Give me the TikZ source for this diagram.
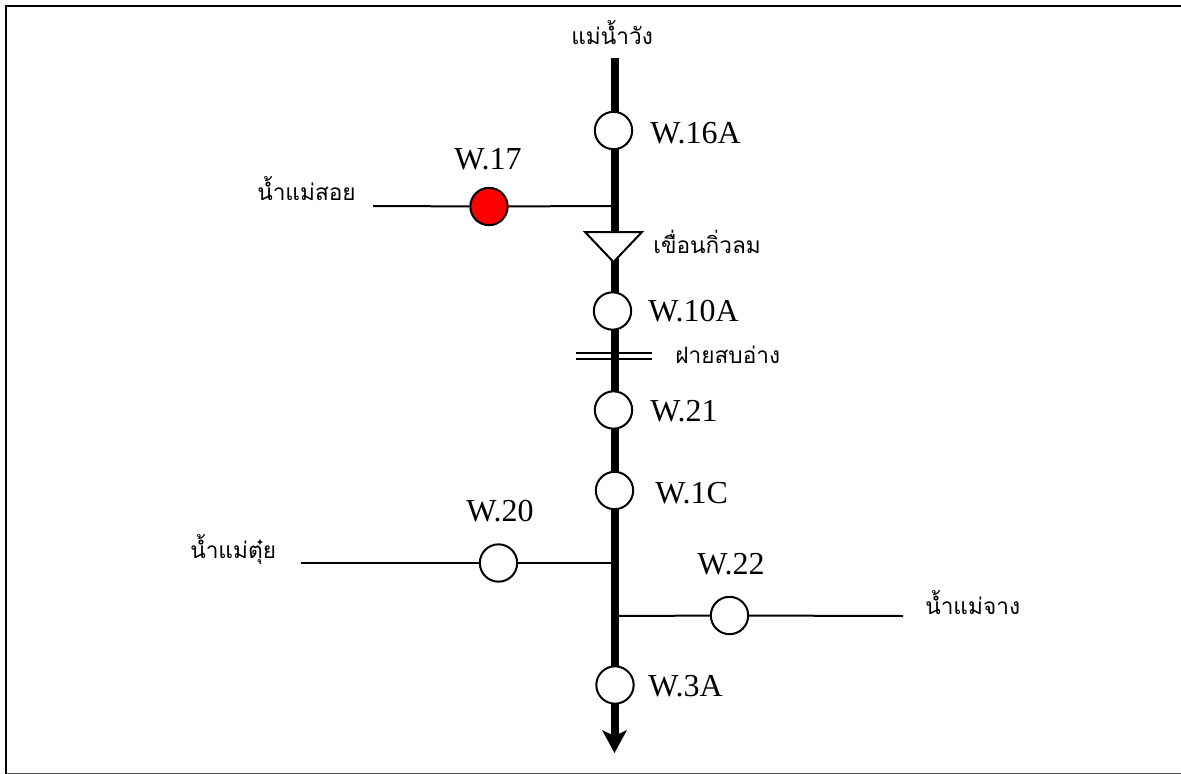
\documentclass[tikz,border=0pt]{standalone}
\usepackage{fontspec}
\setmainfont{Liberation Serif}
\newfontfamily\thaifont[Script=Thai,FakeStretch=1.0]{Loma}
\usetikzlibrary{arrows.meta}
\definecolor{edgegray}{HTML}{555555}
\tikzset{
  x=0.75pt,y=-0.75pt,
  station/.style={circle,draw=black,line width=1.5pt,fill=white,minimum size=28pt,inner sep=0pt},
  redstation/.style={station,fill=red},
  river/.style={line width=6pt,draw=black},
  branch/.style={line width=1.5pt,draw=black},
  gauge/.style={font=\fontsize{24pt}{28pt}\selectfont,anchor=base west,inner sep=0pt},
  thailabel/.style={font=\thaifont\fontsize{17pt}{22pt}\selectfont,anchor=base west,inner sep=0pt},
  framebox/.style={line width=1.5pt,draw=black},
  frameedge/.style={line width=1pt,draw=edgegray},
  dam/.style={draw=black,line width=1.5pt,fill=white,line join=miter}
}
\begin{document}
\begin{tikzpicture}
\useasboundingbox (0,0) rectangle (1181,774);
\fill[white] (0,0) rectangle (1181,774);
\draw[frameedge] (6,773.3) -- (1181,773.3);
\draw[framebox] (6,774) -- (6,6) -- (1181,6);
\coordinate (rtop) at (614.5,58);
\coordinate (rend) at (614.5,738);
\coordinate (rtip) at (614.5,753);
\coordinate (j17) at (611,206);
\coordinate (j20) at (611,563);
\coordinate (j22) at (617,616);
\coordinate (s17) at (373,206);
\coordinate (s20) at (301,563);
\coordinate (s22) at (903,616);
\coordinate (wl) at (576,353);
\coordinate (wr) at (652,353);
\coordinate (wl2) at (576,359);
\coordinate (wr2) at (652,359);
\coordinate (d1) at (585,232);
\coordinate (d2) at (642,232);
\coordinate (d3) at (613.5,262);
\draw[river] (rtop) -- (rend);
\fill[black] (rtip) -- (602,730) -- (614.5,736) -- (627,730) -- cycle;
\draw[branch] (wl) -- (wr);
\draw[branch] (wl2) -- (wr2);
\draw[dam] (d1) -- (d2) -- (d3) -- cycle;
\node[station] (w16a) at (613.5,130.5) {};
\node[redstation] (w17) at (489,206.5) {};
\node[station] (w10a) at (612.5,311) {};
\node[station] (w21) at (613.5,410) {};
\node[station] (w1c) at (614.5,490.5) {};
\node[station] (w20) at (498.5,563) {};
\node[station] (w22) at (729.5,615.5) {};
\node[station] (w3a) at (615,685) {};
\draw[branch] (s17) -- (w17) -- (j17);
\draw[branch] (s20) -- (w20) -- (j20);
\draw[branch] (j22) -- (w22) -- (s22);
\node[gauge] (lw16a) at (650,143) {W.16A};
\node[gauge] (lw17) at (454,169) {W.17};
\node[gauge] (lw10a) at (648,321) {W.10A};
\node[gauge] (lw21) at (650,421) {W.21};
\node[gauge] (lw1c) at (655,503) {W.1C};
\node[gauge] (lw20) at (466,521) {W.20};
\node[gauge] (lw22) at (697,574) {W.22};
\node[gauge] (lw3a) at (648,696) {W.3A};
\node[thailabel] (river) at (571,45) {แม่น้ำวัง};
\node[thailabel] (soi) at (257,200) {น้ำแม่สอย};
\node[thailabel] (kiw) at (653,253) {เขื่อนกิ่วลม};
\node[thailabel] (sop) at (675,363) {ฝายสบอ่าง};
\node[thailabel] (tui) at (190,558) {น้ำแม่ตุ๋ย};
\node[thailabel] (chang) at (925,614) {น้ำแม่จาง};
\end{tikzpicture}
\end{document}
